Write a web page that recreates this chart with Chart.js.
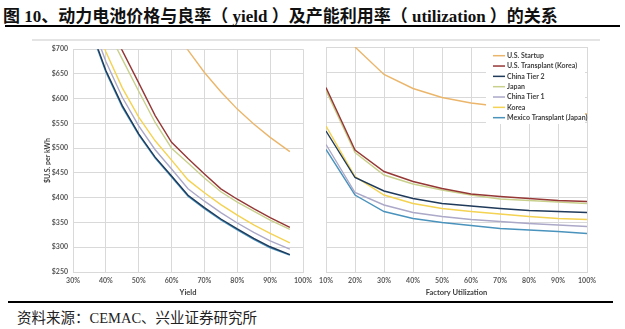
<!DOCTYPE html>
<html>
<head>
<meta charset="utf-8">
<script src="https://cdn.jsdelivr.net/npm/chart.js@4.4.1/dist/chart.umd.min.js"></script>
<style>
  body { margin: 0; width: 625px; height: 329px; background: #fff; position: relative; overflow: hidden; }
  #title { position: absolute; left: 3px; top: 2px; font: bold 17px "Liberation Serif", "Noto Sans CJK SC"; color: #111; white-space: nowrap; }
  .rule { position: absolute; background: #000; }
  #frame { position: absolute; left: 32px; top: 39px; width: 568px; height: 2px; background: #e4e4e4; }
  #source { position: absolute; left: 17px; top: 306px; font: 14.5px "Liberation Serif", "Noto Sans CJK SC"; color: #222; white-space: nowrap; }
  canvas { position: absolute; }
</style>
</head>
<body>
<div id="title">图 10、动力电池价格与良率（ yield ）及产能利用率（ utilization ）的关系</div>
<div class="rule" style="left:5px;top:25px;width:615px;height:1.5px"></div>
<div id="frame"></div>
<canvas id="yieldChart" width="295" height="260" style="left:30px;top:40px"></canvas>
<canvas id="utilChart" width="300" height="260" style="left:310px;top:40px"></canvas>
<div class="rule" style="left:8px;top:301px;width:605px;height:1.5px"></div>
<div id="source">资料来源：CEMAC、兴业证券研究所</div>

<script>
// series names and colours (legend order)
const seriesNames = ['U.S. Startup', 'U.S. Transplant (Korea)', 'China Tier 2', 'Japan', 'China Tier 1', 'Korea', 'Mexico Transplant (Japan)'];
const seriesColors = ['#EBB66B', '#953735', '#1F3A5A', '#C9D08C', '#ABA8C8', '#F4D252', '#4A93BD'];

// price ($/kWh) vs. yield (%)
const yieldPct = [35, 40, 45, 50, 55, 60, 65, 70, 75, 80, 85, 90, 96];
const usStartupY    = [null, null, null, null, null, 751, 698, 653, 614, 579, 549, 522, 493];
const usTransplantY = [835, 763, 697, 632, 566, 512, 479, 448, 418, 397, 378, 360, 340];
const chinaTier2Y   = [748, 657, 586, 529, 482, 444, 405, 380, 357, 337, 318, 301, 285];
const japanY        = [815, 745, 680, 615, 552, 500, 470, 440, 412, 391, 373, 355, 336];
const chinaTier1Y   = [765, 675, 603, 545, 497, 458, 418, 393, 370, 349, 330, 313, 296];
const koreaY        = [790, 695, 622, 563, 515, 476, 436, 410, 386, 365, 345, 328, 309];
const mexicoY       = [745, 654, 583, 527, 480, 442, 403, 378, 355, 335, 316, 299, 284];

// price ($/kWh) vs. factory utilization (%)
const utilPct = [10, 20, 30, 40, 50, 60, 70, 80, 90, 100];
const usStartupU    = [null, 700, 645, 617, 599, 588, 581, 575, 570, 566];
const usTransplantU = [619, 494, 451, 431, 417, 406, 401, 397, 393, 391];
const chinaTier2U   = [532, 439, 412, 397, 387, 382, 377, 373, 371, 369];
const japanU        = [613, 489, 444, 426, 414, 404, 396, 393, 390, 387];
const chinaTier1U   = [505, 409, 384, 369, 361, 355, 351, 347, 344, 341];
const koreaU        = [542, 441, 404, 387, 377, 371, 366, 361, 357, 355];
const mexicoU       = [495, 404, 371, 357, 349, 343, 337, 334, 331, 327];

// axis ranges and labels
const priceMin = 250, priceMax = 700, priceStep = 50;
const yieldMin = 30, yieldMax = 100;
const utilMin = 10, utilMax = 100;
const priceTitle = '$U.S. per kWh';
const yieldTitle = 'Yield';
const utilTitle = 'Factory Utilization';

const tickFont = { family: 'Lato', size: 7, weight: 'bold' };
const gridColor = '#d9d9d9';

function buildSets(xs, seriesList) {
  return seriesList.map((vals, i) => ({
    label: seriesNames[i],
    data: xs.map((x, k) => ({ x: x, y: vals[k] })),
    borderColor: seriesColors[i],
    backgroundColor: seriesColors[i],
    borderWidth: 1.4,
    pointRadius: 0,
    tension: 0,
    fill: false
  }));
}

function xAxis(min, max, title) {
  return {
    type: 'linear', min: min, max: max,
    grid: { color: gridColor, drawTicks: false },
    border: { color: gridColor },
    ticks: { stepSize: 10, autoSkip: false, maxRotation: 0, padding: 5, color: '#595959', font: tickFont,
             callback: v => v + '%' },
    title: { display: true, text: title, color: '#404040', font: { family: 'Lato', size: 7.5, weight: 'bold' },
             padding: { top: 0, bottom: 3 } },
    afterFit: s => { s.height = 28; }
  };
}

function yAxis(showLabels) {
  return {
    min: priceMin, max: priceMax,
    grid: { color: gridColor, drawTicks: false },
    border: { color: gridColor },
    ticks: { display: showLabels, stepSize: priceStep, padding: 5, color: '#595959', font: tickFont,
             callback: v => '$' + v },
    title: { display: showLabels, text: priceTitle, color: '#404040', font: { family: 'Lato', size: 7, weight: 'bold' },
             padding: { top: 14, bottom: 0 } },
    afterFit: s => { s.width = showLabels ? 43 : 0; }
  };
}

// white legend panel drawn over the upper right of the utilization plot
const legendPanel = {
  id: 'legendPanel',
  afterDraw(chart) {
    const ctx = chart.ctx;
    ctx.save();
    ctx.fillStyle = '#fff';
    ctx.fillRect(176, 8, 99, 76);
    ctx.font = 'bold 7px Lato';
    ctx.textBaseline = 'middle';
    chart.data.datasets.forEach((ds, i) => {
      const y = 15.7 + i * 10.33;
      ctx.strokeStyle = ds.borderColor;
      ctx.lineWidth = 1.5;
      ctx.beginPath();
      ctx.moveTo(183, y);
      ctx.lineTo(195, y);
      ctx.stroke();
      ctx.fillStyle = '#404040';
      ctx.fillText(ds.label, 197, y);
    });
    ctx.restore();
  }
};

const common = {
  responsive: false,
  animation: false,
  plugins: { legend: { display: false }, tooltip: { enabled: false } }
};

new Chart(document.getElementById('yieldChart'), {
  type: 'line',
  data: { datasets: buildSets(yieldPct, [usStartupY, usTransplantY, chinaTier2Y, japanY, chinaTier1Y, koreaY, mexicoY]) },
  options: Object.assign({}, common, {
    layout: { padding: { left: 0, right: 22, top: 7, bottom: 0 } },
    scales: { x: xAxis(yieldMin, yieldMax, yieldTitle), y: yAxis(true) }
  })
});

new Chart(document.getElementById('utilChart'), {
  type: 'line',
  data: { datasets: buildSets(utilPct, [usStartupU, usTransplantU, chinaTier2U, japanU, chinaTier1U, koreaU, mexicoU]) },
  options: Object.assign({}, common, {
    layout: { padding: { left: 16, right: 23, top: 7, bottom: 0 } },
    scales: { x: xAxis(utilMin, utilMax, utilTitle), y: yAxis(false) }
  }),
  plugins: [legendPanel]
});
</script>
</body>
</html>
